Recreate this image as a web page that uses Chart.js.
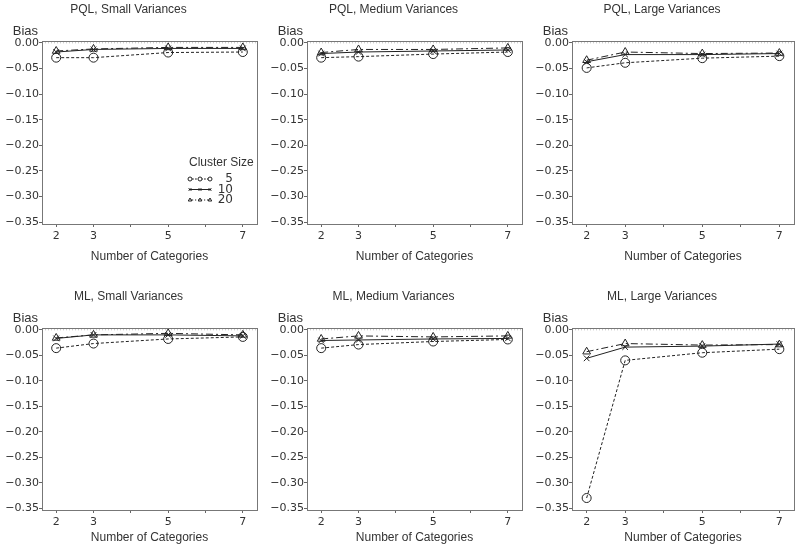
<!DOCTYPE html>
<html>
<head>
<meta charset="utf-8">
<script src="https://cdn.jsdelivr.net/npm/chart.js@4.4.1/dist/chart.umd.min.js"></script>
<style>
  body { margin: 0; background: #fff; width: 800px; height: 548px; overflow: hidden; position: relative; }
  canvas { position: absolute; }
</style>
</head>
<body>
<canvas id="c0"></canvas>
<canvas id="c1"></canvas>
<canvas id="c2"></canvas>
<canvas id="c3"></canvas>
<canvas id="c4"></canvas>
<canvas id="c5"></canvas>
<script>
// number of categories on the x axis
const categories = [2, 3, 5, 7];
const xTicks = [2, 3, 4, 5, 6, 7];
const xLabelled = [2, 3, 5, 7];
const yTicks = [0, -0.05, -0.10, -0.15, -0.20, -0.25, -0.30, -0.35];
const clusterSizes = ["5", "10", "20"];

const panelTitles = [
  "PQL, Small Variances", "PQL, Medium Variances", "PQL, Large Variances",
  "ML, Small Variances", "ML, Medium Variances", "ML, Large Variances"
];

// bias per cluster size (rows: 5, 10, 20)
const pqlSmall = [
  [-0.029, -0.029, -0.019, -0.018],
  [-0.018, -0.013, -0.011, -0.011],
  [-0.016, -0.012, -0.009, -0.009]
];
const pqlMedium = [
  [-0.029, -0.027, -0.022, -0.018],
  [-0.021, -0.018, -0.016, -0.014],
  [-0.019, -0.013, -0.013, -0.010]
];
const pqlLarge = [
  [-0.049, -0.039, -0.030, -0.026],
  [-0.037, -0.023, -0.023, -0.021],
  [-0.034, -0.018, -0.021, -0.020]
];
const mlSmall = [
  [-0.036, -0.027, -0.018, -0.014],
  [-0.017, -0.010, -0.010, -0.012],
  [-0.016, -0.010, -0.007, -0.010]
];
const mlMedium = [
  [-0.036, -0.029, -0.023, -0.019],
  [-0.021, -0.020, -0.018, -0.017],
  [-0.018, -0.012, -0.014, -0.012]
];
const mlLarge = [
  [-0.330, -0.060, -0.045, -0.038],
  [-0.056, -0.034, -0.032, -0.028],
  [-0.043, -0.027, -0.030, -0.029]
];
const panelData = [pqlSmall, pqlMedium, pqlLarge, mlSmall, mlMedium, mlLarge];

const FONT = "'Liberation Sans', Arial, sans-serif";
const NUMFONT = "'DejaVu Sans', sans-serif";
const INK = "#222";
const TEXT = "#333";

const seriesStyle = [
  { dash: [3, 2], point: "circle", r: 4.5 },
  { dash: [], point: "crossRot", r: 4 },
  { dash: [7, 3, 2, 3], point: "triangle", r: 4.5 }
];

const fmt = v => (Math.abs(v) < 1e-9 ? "0.00" : v.toFixed(2).replace("-", "\u2212"));

// frame, zero line, "Bias" label
const framePlugin = {
  id: "frame",
  beforeDatasetsDraw(chart) {
    const { ctx, chartArea: a, scales } = chart;
    const y0 = scales.y.getPixelForValue(0);
    ctx.save();
    ctx.strokeStyle = "#bbb";
    ctx.lineWidth = 1;
    ctx.setLineDash([1, 2]);
    ctx.beginPath();
    ctx.moveTo(a.left, y0);
    ctx.lineTo(a.right, y0);
    ctx.stroke();
    ctx.restore();
  },
  afterDraw(chart) {
    const { ctx, chartArea: a } = chart;
    ctx.save();
    ctx.strokeStyle = "#777";
    ctx.lineWidth = 1;
    ctx.strokeRect(Math.round(a.left) + 0.5, Math.round(a.top) + 0.5,
      Math.round(a.right - a.left), Math.round(a.bottom - a.top));
    ctx.fillStyle = TEXT;
    ctx.font = "13px " + FONT;
    ctx.textAlign = "right";
    ctx.textBaseline = "middle";
    ctx.fillText("Bias", a.left - 4, a.top - 10);
    ctx.restore();
  }
};

// legend drawn inside the first panel
const legendPlugin = {
  id: "clusterLegend",
  afterDraw(chart) {
    if (!chart.options.plugins.clusterLegend.show) return;
    const { ctx, chartArea: a } = chart;
    ctx.save();
    ctx.fillStyle = TEXT;
    ctx.font = "12px " + FONT;
    ctx.textAlign = "left";
    ctx.textBaseline = "middle";
    ctx.fillText("Cluster Size", a.right - 68, a.bottom - 61);
    clusterSizes.forEach((name, i) => {
      const y = a.bottom - 45 + i * 10.5;
      const s = seriesStyle[i];
      ctx.strokeStyle = INK;
      ctx.lineWidth = 1;
      ctx.setLineDash(s.dash.map(d => d * 0.6));
      ctx.beginPath();
      ctx.moveTo(a.right - 68, y);
      ctx.lineTo(a.right - 46, y);
      ctx.stroke();
      ctx.setLineDash([]);
      ctx.fillStyle = "#fff";
      [a.right - 67, a.right - 57, a.right - 47].forEach(px => {
        Chart.helpers.drawPoint(ctx, { pointStyle: s.point, radius: 2, rotation: 0, borderWidth: 1 }, px, y);
      });
      ctx.fillStyle = TEXT;
      ctx.font = "12px " + NUMFONT;
      ctx.textAlign = "right";
      ctx.fillText(name, a.right - 24, y);
    });
    ctx.restore();
  }
};

const rows = [
  { top: 0, height: 274, xAxisH: 50, xTitlePad: 10 },
  { top: 287, height: 261, xAxisH: 38, xTitlePad: 3 }
];
const cols = [
  { left: 0, width: 266, boxRight: 257 },
  { left: 265, width: 266, boxRight: 257 },
  { left: 530, width: 270, boxRight: 264 }
];

panelData.forEach((rowsData, p) => {
  const row = rows[Math.floor(p / 3)];
  const col = cols[p % 3];
  const canvas = document.getElementById("c" + p);
  canvas.width = col.width;
  canvas.height = row.height;
  canvas.style.left = col.left + "px";
  canvas.style.top = row.top + "px";

  new Chart(canvas.getContext("2d"), {
    type: "line",
    data: {
      datasets: rowsData.map((vals, i) => ({
        label: clusterSizes[i],
        data: categories.map((c, k) => ({ x: c, y: vals[k] })),
        borderColor: INK,
        borderWidth: 1,
        borderDash: seriesStyle[i].dash,
        pointStyle: seriesStyle[i].point,
        pointRadius: seriesStyle[i].r,
        pointBorderColor: INK,
        pointBorderWidth: 1,
        pointBackgroundColor: "rgba(0,0,0,0)",
        tension: 0,
        fill: false
      }))
    },
    options: {
      responsive: false,
      animation: false,
      devicePixelRatio: 1,
      layout: { padding: { left: 0, top: 0, bottom: 0, right: col.width - col.boxRight } },
      plugins: {
        legend: { display: false },
        tooltip: { enabled: false },
        clusterLegend: { show: p === 0 },
        title: {
          display: true,
          text: panelTitles[p],
          color: TEXT,
          font: { family: FONT, size: 12, weight: "normal" },
          padding: { top: 2, bottom: 24.6 }
        }
      },
      scales: {
        x: {
          type: "linear",
          min: 1.62,
          max: 7.38,
          afterBuildTicks: s => { s.ticks = xTicks.map(v => ({ value: v })); },
          afterFit: s => { s.height = row.xAxisH; },
          ticks: {
            autoSkip: false,
            maxRotation: 0,
            color: TEXT,
            font: { family: NUMFONT, size: 11 },
            padding: 3,
            callback: v => (xLabelled.includes(v) ? String(v) : "")
          },
          grid: { drawOnChartArea: false, drawTicks: true, tickLength: 3, tickColor: "#666" },
          border: { display: false },
          title: {
            display: true,
            text: "Number of Categories",
            color: TEXT,
            font: { family: FONT, size: 12 },
            padding: { top: 0, bottom: row.xTitlePad }
          }
        },
        y: {
          min: -0.3535,
          max: 0.0035,
          afterBuildTicks: s => { s.ticks = yTicks.map(v => ({ value: v })); },
          afterFit: s => { s.width = 42; },
          ticks: {
            color: TEXT,
            font: { family: NUMFONT, size: 11 },
            padding: 0,
            callback: v => fmt(v)
          },
          grid: { drawOnChartArea: false, drawTicks: true, tickLength: 3, tickColor: "#666" },
          border: { display: false }
        }
      }
    },
    plugins: [framePlugin, legendPlugin]
  });
});
</script>
</body>
</html>
